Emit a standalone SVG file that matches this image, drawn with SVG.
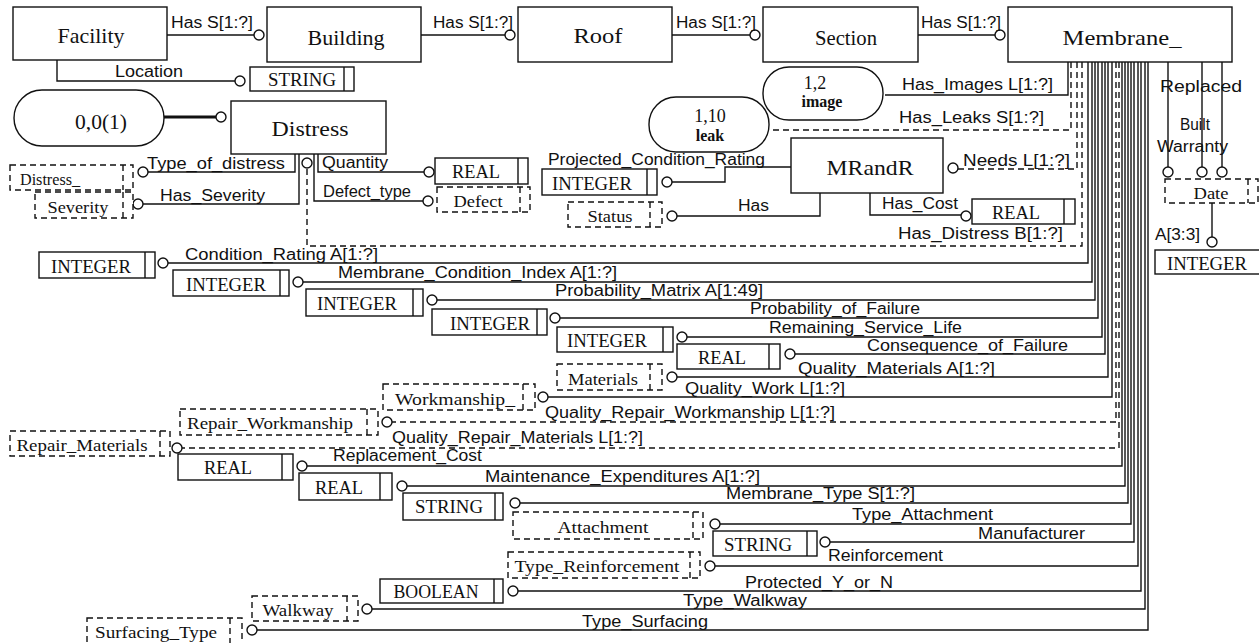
<svg xmlns="http://www.w3.org/2000/svg" width="1259" height="643" viewBox="0 0 1259 643">
<style>
.ln{fill:none;stroke:#111;stroke-width:1.4}
.thk{fill:none;stroke:#111;stroke-width:3}
.ds{fill:none;stroke:#111;stroke-width:1.4;stroke-dasharray:6 4}
.bx{fill:#fff;stroke:#111;stroke-width:1.4}
.db{fill:#fff;stroke:#111;stroke-width:1.4;stroke-dasharray:6 4}
.ci{fill:#fff;stroke:#111;stroke-width:1.4}
.lb{font-family:"Liberation Sans",Arial,sans-serif;font-size:16px;fill:#111}
.en{font-family:"Liberation Serif","Times New Roman",serif;font-size:22px;text-anchor:middle;fill:#111}
.ty{font-family:"Liberation Serif","Times New Roman",serif;font-size:18px;text-anchor:middle;fill:#111}
.dt{font-family:"Liberation Serif","Times New Roman",serif;font-size:16px;text-anchor:middle;fill:#111}
</style>
<rect width="1259" height="643" fill="#fff"/>
<g id="connectors">
  <path class="ln" d="M167,35 H254"/>
  <path class="ln" d="M421,35 H505"/>
  <path class="ln" d="M672,35 H750"/>
  <path class="ln" d="M918,35 H995"/>
  <path class="ln" d="M57,60 V81 H235"/>
  <path class="thk" d="M164,117 H216"/>
  <path class="ln" d="M295,154 V172 H148"/>
  <path class="ln" d="M299,154 V204 H143"/>
  <path class="ln" d="M318,154 V172 H424"/>
  <path class="ln" d="M314,154 V201 H423"/>
  <path class="ln" d="M791,167 H725 V182 H672"/>
  <path class="ln" d="M820,193 V216 H677"/>
  <path class="ln" d="M870,193 V215 H961"/>
  <path class="ln" d="M1068,62 V95 H885"/>
  <path class="ds" d="M1071,62 V130 H773"/>
  <path class="ds" d="M1077,62 V169 H958"/>
  <path class="ds" d="M1082,62 V246 H307 V168"/>
  <path class="ln" d="M1168,62 V167"/>
  <path class="ln" d="M1202,62 V167"/>
  <path class="ln" d="M1222,62 V167"/>
  <path class="ln" d="M1212,203 V237"/>
  <path class="ln" d="M1088,62 V263 H168"/>
  <path class="ln" d="M1092,62 V282 H303"/>
  <path class="ln" d="M1095,62 V300 H437"/>
  <path class="ln" d="M1098,62 V318 H560"/>
  <path class="ln" d="M1102,62 V337 H687"/>
  <path class="ln" d="M1105,62 V354 H795"/>
  <path class="ln" d="M1108,62 V377 H677"/>
  <path class="ln" d="M1112,62 V397 H548"/>
  <path class="ds" d="M1116,62 V422 H392"/>
  <path class="ds" d="M1119,62 V448 H182"/>
  <path class="ln" d="M1122,62 V466 H307"/>
  <path class="ln" d="M1125,62 V486 H407"/>
  <path class="ln" d="M1128,62 V503 H520"/>
  <path class="ln" d="M1131,62 V524 H720"/>
  <path class="ln" d="M1134,62 V542 H830"/>
  <path class="ln" d="M1138,62 V566 H715"/>
  <path class="ln" d="M1141,62 V591 H518"/>
  <path class="ln" d="M1145,62 V609 H372"/>
  <path class="ln" d="M1148,62 V630 H257"/>
  <g>
    <circle class="ci" cx="259" cy="35" r="5"/>
    <circle class="ci" cx="510" cy="35" r="5"/>
    <circle class="ci" cx="755" cy="35" r="5"/>
    <circle class="ci" cx="1000" cy="35" r="5"/>
    <circle class="ci" cx="240" cy="81" r="5"/>
    <circle class="ci" cx="221" cy="117" r="5"/>
    <circle class="ci" cx="143" cy="172" r="5"/>
    <circle class="ci" cx="138" cy="204" r="5"/>
    <circle class="ci" cx="429" cy="172" r="5"/>
    <circle class="ci" cx="428" cy="201" r="5"/>
    <circle class="ci" cx="307" cy="163" r="5"/>
    <circle class="ci" cx="667" cy="182" r="5"/>
    <circle class="ci" cx="672" cy="216" r="5"/>
    <circle class="ci" cx="966" cy="216" r="5"/>
    <circle class="ci" cx="953" cy="168" r="5"/>
    <circle class="ci" cx="1168" cy="172" r="5"/>
    <circle class="ci" cx="1202" cy="172" r="5"/>
    <circle class="ci" cx="1222" cy="172" r="5"/>
    <circle class="ci" cx="1212" cy="242" r="5"/>
    <circle class="ci" cx="163" cy="263" r="5"/>
    <circle class="ci" cx="298" cy="282" r="5"/>
    <circle class="ci" cx="432" cy="300" r="5"/>
    <circle class="ci" cx="555" cy="318" r="5"/>
    <circle class="ci" cx="682" cy="337" r="5"/>
    <circle class="ci" cx="790" cy="354" r="5"/>
    <circle class="ci" cx="672" cy="377" r="5"/>
    <circle class="ci" cx="543" cy="397" r="5"/>
    <circle class="ci" cx="387" cy="422" r="5"/>
    <circle class="ci" cx="177" cy="448" r="5"/>
    <circle class="ci" cx="302" cy="466" r="5"/>
    <circle class="ci" cx="402" cy="486" r="5"/>
    <circle class="ci" cx="515" cy="503" r="5"/>
    <circle class="ci" cx="715" cy="524" r="5"/>
    <circle class="ci" cx="825" cy="542" r="5"/>
    <circle class="ci" cx="710" cy="566" r="5"/>
    <circle class="ci" cx="513" cy="591" r="5"/>
    <circle class="ci" cx="367" cy="609" r="5"/>
    <circle class="ci" cx="252" cy="630" r="5"/>
  </g>
  <g class="lb">
    <text x="171" y="28" textLength="82" lengthAdjust="spacingAndGlyphs">Has S[1:?]</text>
    <text x="433" y="28" textLength="80" lengthAdjust="spacingAndGlyphs">Has S[1:?]</text>
    <text x="676" y="28" textLength="80" lengthAdjust="spacingAndGlyphs">Has S[1:?]</text>
    <text x="921" y="28" textLength="80" lengthAdjust="spacingAndGlyphs">Has S[1:?]</text>
    <text x="115" y="77" textLength="68" lengthAdjust="spacingAndGlyphs">Location</text>
    <text x="147" y="169" textLength="138" lengthAdjust="spacingAndGlyphs">Type_of_distress</text>
    <text x="160" y="201" textLength="105" lengthAdjust="spacingAndGlyphs">Has_Severity</text>
    <text x="322" y="168" textLength="66" lengthAdjust="spacingAndGlyphs">Quantity</text>
    <text x="323" y="197" textLength="88" lengthAdjust="spacingAndGlyphs">Defect_type</text>
    <text x="548" y="165" textLength="217" lengthAdjust="spacingAndGlyphs">Projected_Condition_Rating</text>
    <text x="738" y="211" textLength="31" lengthAdjust="spacingAndGlyphs">Has</text>
    <text x="882" y="209" textLength="76" lengthAdjust="spacingAndGlyphs">Has_Cost</text>
    <text x="963" y="166" textLength="107" lengthAdjust="spacingAndGlyphs">Needs L[1:?]</text>
    <text x="902" y="90" textLength="151" lengthAdjust="spacingAndGlyphs">Has_Images L[1:?]</text>
    <text x="899" y="123" textLength="145" lengthAdjust="spacingAndGlyphs">Has_Leaks S[1:?]</text>
    <text x="898" y="239" textLength="165" lengthAdjust="spacingAndGlyphs">Has_Distress B[1:?]</text>
    <text x="1160" y="92" textLength="82" lengthAdjust="spacingAndGlyphs">Replaced</text>
    <text x="1180" y="130" textLength="30" lengthAdjust="spacingAndGlyphs">Built</text>
    <text x="1157" y="152" textLength="71" lengthAdjust="spacingAndGlyphs">Warranty</text>
    <text x="1155" y="240" textLength="45" lengthAdjust="spacingAndGlyphs">A[3:3]</text>
    <text x="185" y="260" textLength="193" lengthAdjust="spacingAndGlyphs">Condition_Rating A[1:?]</text>
    <text x="338" y="278" textLength="279" lengthAdjust="spacingAndGlyphs">Membrane_Condition_Index A[1:?]</text>
    <text x="555" y="296" textLength="208" lengthAdjust="spacingAndGlyphs">Probability_Matrix A[1:49]</text>
    <text x="750" y="314" textLength="170" lengthAdjust="spacingAndGlyphs">Probability_of_Failure</text>
    <text x="769" y="333" textLength="193" lengthAdjust="spacingAndGlyphs">Remaining_Service_Life</text>
    <text x="867" y="351" textLength="201" lengthAdjust="spacingAndGlyphs">Consequence_of_Failure</text>
    <text x="798" y="374" textLength="197" lengthAdjust="spacingAndGlyphs">Quality_Materials A[1:?]</text>
    <text x="685" y="394" textLength="160" lengthAdjust="spacingAndGlyphs">Quality_Work L[1:?]</text>
    <text x="545" y="418" textLength="290" lengthAdjust="spacingAndGlyphs">Quality_Repair_Workmanship L[1:?]</text>
    <text x="392" y="443" textLength="251" lengthAdjust="spacingAndGlyphs">Quality_Repair_Materials L[1:?]</text>
    <text x="333" y="461" textLength="149" lengthAdjust="spacingAndGlyphs">Replacement_Cost</text>
    <text x="485" y="482" textLength="275" lengthAdjust="spacingAndGlyphs">Maintenance_Expenditures A[1:?]</text>
    <text x="726" y="499" textLength="189" lengthAdjust="spacingAndGlyphs">Membrane_Type S[1:?]</text>
    <text x="852" y="520" textLength="141" lengthAdjust="spacingAndGlyphs">Type_Attachment</text>
    <text x="978" y="539" textLength="107" lengthAdjust="spacingAndGlyphs">Manufacturer</text>
    <text x="828" y="561" textLength="115" lengthAdjust="spacingAndGlyphs">Reinforcement</text>
    <text x="745" y="588" textLength="148" lengthAdjust="spacingAndGlyphs">Protected_Y_or_N</text>
    <text x="683" y="606" textLength="124" lengthAdjust="spacingAndGlyphs">Type_Walkway</text>
    <text x="582" y="627" textLength="126" lengthAdjust="spacingAndGlyphs">Type_Surfacing</text>
  </g>
</g>
<g id="facility"><rect class="bx" x="13" y="7" width="154" height="53"/><text class="en" x="91" y="43" textLength="67" lengthAdjust="spacingAndGlyphs">Facility</text></g>
<g id="building"><rect class="bx" x="267" y="7" width="154" height="55"/><text class="en" x="346" y="45" textLength="77" lengthAdjust="spacingAndGlyphs">Building</text></g>
<g id="roof"><rect class="bx" x="518" y="7" width="154" height="55"/><text class="en" x="598" y="43" textLength="49" lengthAdjust="spacingAndGlyphs">Roof</text></g>
<g id="section"><rect class="bx" x="763" y="7" width="155" height="55"/><text class="en" x="846" y="45" textLength="62" lengthAdjust="spacingAndGlyphs">Section</text></g>
<g id="membrane"><rect class="bx" x="1008" y="7" width="224" height="55"/><text class="en" x="1122" y="45" textLength="119" lengthAdjust="spacingAndGlyphs">Membrane_</text></g>
<g id="location-string"><rect class="bx" x="250" y="67" width="104" height="24"/><path class="ln" d="M344,67 V91"/><text class="ty" x="302" y="86" textLength="68" lengthAdjust="spacingAndGlyphs">STRING</text></g>
<g id="oval-001"><rect class="bx" x="14" y="90" width="150" height="56" rx="28"/><text class="en" x="101" y="129" font-size="20" textLength="52" lengthAdjust="spacingAndGlyphs">0,0(1)</text></g>
<g id="distress"><rect class="bx" x="231" y="101" width="155" height="53"/><text class="en" x="310" y="136" textLength="77" lengthAdjust="spacingAndGlyphs">Distress</text></g>
<g id="oval-image"><rect class="bx" x="763" y="67" width="120" height="53" rx="26"/><text class="ty" x="815" y="89" font-size="16">1,2</text><text class="dt" x="822" y="107" font-size="14" font-weight="bold">image</text></g>
<g id="oval-leak"><rect class="bx" x="649" y="97" width="120" height="55" rx="27"/><text class="ty" x="710" y="122" font-size="18">1,10</text><text class="dt" x="710" y="141" font-size="16" font-weight="bold">leak</text></g>
<g id="mrandr"><rect class="bx" x="791" y="138" width="152" height="55"/><text class="en" x="870" y="175" textLength="87" lengthAdjust="spacingAndGlyphs">MRandR</text></g>
<g id="distress-type"><rect class="db" x="10" y="165" width="123" height="25"/><path class="ds" d="M123,165 V190"/><text class="dt" x="50" y="185" textLength="60" lengthAdjust="spacingAndGlyphs">Distress_</text></g>
<g id="severity"><rect class="db" x="35" y="192" width="98" height="26"/><path class="ds" d="M123,192 V218"/><text class="dt" x="78" y="213" textLength="61" lengthAdjust="spacingAndGlyphs">Severity</text></g>
<g id="quantity-real"><rect class="bx" x="435" y="158" width="93" height="26"/><path class="ln" d="M518,158 V184"/><text class="ty" x="476" y="178" textLength="48" lengthAdjust="spacingAndGlyphs">REAL</text></g>
<g id="defect"><rect class="db" x="437" y="187" width="93" height="25"/><path class="ds" d="M520,187 V212"/><text class="dt" x="478" y="207" textLength="49" lengthAdjust="spacingAndGlyphs">Defect</text></g>
<g id="projected-integer"><rect class="bx" x="542" y="169" width="115" height="26"/><path class="ln" d="M647,169 V195"/><text class="ty" x="592" y="190" textLength="80" lengthAdjust="spacingAndGlyphs">INTEGER</text></g>
<g id="status"><rect class="db" x="568" y="202" width="94" height="25"/><path class="ds" d="M650,202 V227"/><text class="dt" x="610" y="222" textLength="45" lengthAdjust="spacingAndGlyphs">Status</text></g>
<g id="cost-real"><rect class="bx" x="972" y="199" width="103" height="25"/><path class="ln" d="M1064,199 V224"/><text class="ty" x="1016" y="219" textLength="48" lengthAdjust="spacingAndGlyphs">REAL</text></g>
<g id="date"><rect class="db" x="1165" y="179" width="93" height="24"/><path class="ds" d="M1248,179 V203"/><text class="dt" x="1211" y="199" textLength="35" lengthAdjust="spacingAndGlyphs">Date</text></g>
<g id="date-integer"><rect class="bx" x="1155" y="250" width="110" height="24"/><text class="ty" x="1207" y="270" textLength="80" lengthAdjust="spacingAndGlyphs">INTEGER</text></g>
<g id="cr-integer"><rect class="bx" x="39" y="252" width="116" height="26"/><path class="ln" d="M145,252 V278"/><text class="ty" x="91" y="273" textLength="80" lengthAdjust="spacingAndGlyphs">INTEGER</text></g>
<g id="mci-integer"><rect class="bx" x="173" y="270" width="116" height="26"/><path class="ln" d="M280,270 V296"/><text class="ty" x="226" y="291" textLength="80" lengthAdjust="spacingAndGlyphs">INTEGER</text></g>
<g id="pm-integer"><rect class="bx" x="306" y="289" width="117" height="27"/><path class="ln" d="M413,289 V316"/><text class="ty" x="357" y="310" textLength="80" lengthAdjust="spacingAndGlyphs">INTEGER</text></g>
<g id="pf-integer"><rect class="bx" x="432" y="309" width="115" height="26"/><path class="ln" d="M537,309 V335"/><text class="ty" x="490" y="330" textLength="80" lengthAdjust="spacingAndGlyphs">INTEGER</text></g>
<g id="rsl-integer"><rect class="bx" x="557" y="327" width="116" height="25"/><path class="ln" d="M663,327 V352"/><text class="ty" x="607" y="347" textLength="80" lengthAdjust="spacingAndGlyphs">INTEGER</text></g>
<g id="cf-real"><rect class="bx" x="677" y="344" width="103" height="25"/><path class="ln" d="M769,344 V369"/><text class="ty" x="722" y="364" textLength="48" lengthAdjust="spacingAndGlyphs">REAL</text></g>
<g id="materials"><rect class="db" x="557" y="364" width="105" height="26"/><path class="ds" d="M650,364 V390"/><text class="dt" x="603" y="385" textLength="70" lengthAdjust="spacingAndGlyphs">Materials</text></g>
<g id="workmanship"><rect class="db" x="383" y="384" width="152" height="26"/><path class="ds" d="M523,384 V410"/><text class="dt" x="455" y="405" textLength="120" lengthAdjust="spacingAndGlyphs">Workmanship_</text></g>
<g id="repair-workmanship"><rect class="db" x="180" y="409" width="198" height="26"/><path class="ds" d="M367,409 V435"/><text class="dt" x="270" y="429" textLength="166" lengthAdjust="spacingAndGlyphs">Repair_Workmanship</text></g>
<g id="repair-materials"><rect class="db" x="10" y="431" width="160" height="25"/><path class="ds" d="M160,431 V456"/><text class="dt" x="82" y="451" textLength="131" lengthAdjust="spacingAndGlyphs">Repair_Materials</text></g>
<g id="rc-real"><rect class="bx" x="178" y="454" width="115" height="26"/><path class="ln" d="M282,454 V480"/><text class="ty" x="228" y="474" textLength="48" lengthAdjust="spacingAndGlyphs">REAL</text></g>
<g id="me-real"><rect class="bx" x="299" y="473" width="93" height="27"/><path class="ln" d="M380,473 V500"/><text class="ty" x="339" y="494" textLength="48" lengthAdjust="spacingAndGlyphs">REAL</text></g>
<g id="mt-string"><rect class="bx" x="403" y="493" width="100" height="27"/><path class="ln" d="M495,493 V520"/><text class="ty" x="449" y="513" textLength="68" lengthAdjust="spacingAndGlyphs">STRING</text></g>
<g id="attachment"><rect class="db" x="513" y="512" width="190" height="27"/><path class="ds" d="M693,512 V539"/><text class="dt" x="603" y="533" textLength="91" lengthAdjust="spacingAndGlyphs">Attachment</text></g>
<g id="mf-string"><rect class="bx" x="713" y="531" width="104" height="25"/><path class="ln" d="M807,531 V556"/><text class="ty" x="758" y="551" textLength="68" lengthAdjust="spacingAndGlyphs">STRING</text></g>
<g id="type-reinforcement"><rect class="db" x="508" y="552" width="192" height="26"/><path class="ds" d="M690,552 V578"/><text class="dt" x="597" y="572" textLength="165" lengthAdjust="spacingAndGlyphs">Type_Reinforcement</text></g>
<g id="pyn-boolean"><rect class="bx" x="380" y="579" width="123" height="24"/><path class="ln" d="M494,579 V603"/><text class="ty" x="436" y="598" textLength="85" lengthAdjust="spacingAndGlyphs">BOOLEAN</text></g>
<g id="walkway"><rect class="db" x="252" y="596" width="106" height="25"/><path class="ds" d="M347,596 V621"/><text class="dt" x="298" y="616" textLength="71" lengthAdjust="spacingAndGlyphs">Walkway</text></g>
<g id="surfacing-type"><rect class="db" x="87" y="618" width="155" height="32"/><path class="ds" d="M230,618 V650"/><text class="dt" x="156" y="638" textLength="122" lengthAdjust="spacingAndGlyphs">Surfacing_Type</text></g>
</svg>
